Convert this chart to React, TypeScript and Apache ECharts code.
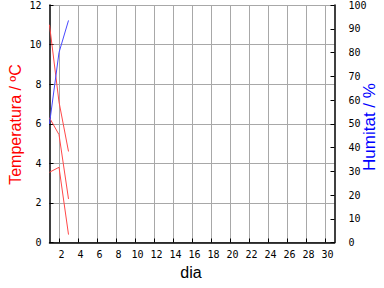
import React, { useEffect, useRef } from "react";
import * as echarts from "echarts";

const days = [1, 2, 3];
const tempMax = [11.0, 7.1, 4.6];
const tempMean = [6.3, 5.45, 2.2];
const tempMin = [3.55, 3.8, 0.4];
const humidity = [50, 80, 93.5];
const dayTicks = [2, 4, 6, 8, 10, 12, 14, 16, 18, 20, 22, 24, 26, 28, 30];

const RED = "#ff4848";
const BLUE = "#4848ff";
const MONO = "DejaVu Sans Mono";

export default function App() {
  const ref = useRef<HTMLDivElement>(null);
  useEffect(() => {
    if (!ref.current) return;
    const chart = echarts.init(ref.current, null, { renderer: "svg" });
    const pts = (vals: number[]) => days.map((d, i) => [d, vals[i]]);
    const lineSeries = (name: string, vals: number[], color: string, yIndex: number) => ({
      name,
      type: "line",
      yAxisIndex: yIndex,
      data: pts(vals),
      symbol: "none",
      lineStyle: { color, width: 1 },
      itemStyle: { color },
    });
    chart.setOption({
      animation: false,
      backgroundColor: "#ffffff",
      grid: { left: 49.5, right: 49.5, top: 0.5, bottom: 45.5 },
      xAxis: {
        type: "value",
        min: 1,
        max: 31,
        axisLine: { show: true, lineStyle: { color: "#000", width: 1.5 } },
        axisTick: { show: true, inside: true, length: 4, customValues: dayTicks, lineStyle: { color: "#000" } },
        axisLabel: { customValues: dayTicks, color: "#000", fontFamily: MONO, fontSize: 10, margin: 7, padding: [0, 0, 0, 5] },
        splitLine: { show: true, lineStyle: { color: "#a8a8a8", width: 1 } },
      },
      yAxis: [
        {
          type: "value",
          min: 0,
          max: 12,
          interval: 2,
          position: "left",
          axisLine: { show: true, lineStyle: { color: "#000", width: 1.5 } },
          axisTick: { show: true, inside: true, length: 4, lineStyle: { color: "#000" } },
          axisLabel: { color: "#000", fontFamily: MONO, fontSize: 10, margin: 8 },
          splitLine: { show: true, lineStyle: { color: "#a8a8a8", width: 1 } },
        },
        {
          type: "value",
          min: 0,
          max: 100,
          interval: 10,
          position: "right",
          axisLine: { show: true, lineStyle: { color: "#000", width: 1.5 } },
          axisTick: { show: true, inside: true, length: 4, lineStyle: { color: "#000" } },
          axisLabel: { color: "#000", fontFamily: MONO, fontSize: 10, margin: 14 },
          splitLine: { show: false },
        },
      ],
      series: [
        lineSeries("Temperatura màxima", tempMax, RED, 0),
        lineSeries("Temperatura mitjana", tempMean, RED, 0),
        lineSeries("Temperatura mínima", tempMin, RED, 0),
        lineSeries("Humitat", humidity, BLUE, 1),
      ],
      graphic: [
        {
          type: "text",
          x: 15,
          y: 124.5,
          rotation: Math.PI / 2,
          style: { text: "Temperatura / ºC", fill: "#ff0000", font: "16px 'Liberation Sans'", align: "center", verticalAlign: "middle" },
        },
        {
          type: "text",
          x: 369,
          y: 127,
          rotation: Math.PI / 2,
          style: { text: "Humitat / %", fill: "#0000ff", font: "17px 'Liberation Sans'", align: "center", verticalAlign: "middle" },
        },
        {
          type: "text",
          x: 191,
          y: 272,
          style: { text: "dia", fill: "#000", font: "16px 'Liberation Sans'", align: "center", verticalAlign: "middle" },
        },
      ],
    });
    return () => chart.dispose();
  }, []);
  return <div ref={ref} style={{ width: 384, height: 288, position: "fixed", left: 0, top: 0 }} />;
}
